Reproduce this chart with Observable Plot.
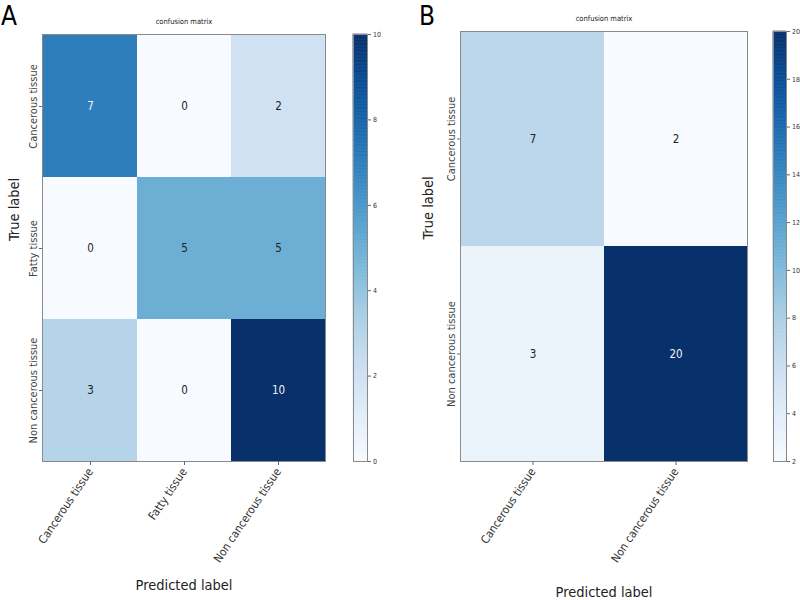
<!DOCTYPE html>
<html>
<head>
<meta charset="utf-8">
<script src="https://cdn.jsdelivr.net/npm/d3@7"></script>
<script src="https://cdn.jsdelivr.net/npm/@observablehq/plot@0.6"></script>
<style>
  html, body { margin: 0; padding: 0; background: white; }
  #root { position: relative; width: 800px; height: 600px; overflow: hidden;
          font-family: "DejaVu Sans Condensed", "DejaVu Sans", sans-serif; font-stretch: condensed; }
  #root svg { position: absolute; left: 0; top: 0; }
  .panel-letter { position: absolute; font-size: 26px; line-height: 1.1; color: #000; }
</style>
</head>
<body>
<div id="root">
  <div class="panel-letter" style="left:1px; top:2px;">A</div>
  <div class="panel-letter" style="left:419px; top:2px;">B</div>
</div>
<script>
// ---- data ----
const labelsA = ["Cancerous tissue", "Fatty tissue", "Non cancerous tissue"];
const valuesA = [
  [7, 0, 2],
  [0, 5, 5],
  [3, 0, 10]
];
const colorTicksA = [0, 2, 4, 6, 8, 10];
const colorDomainA = [0, 10];

const labelsB = ["Cancerous tissue", "Non cancerous tissue"];
const valuesB = [
  [7, 2],
  [3, 20]
];
const colorTicksB = [2, 4, 6, 8, 10, 12, 14, 16, 18, 20];
const colorDomainB = [2, 20];

const titleText = "confusion matrix";
const xLabelText = "Predicted label";
const yLabelText = "True label";

// ---- helpers ----
const W = 800, H = 600;
const condensed = "DejaVu Sans Condensed, DejaVu Sans, sans-serif";
const normal = "DejaVu Sans, sans-serif";
const svgStyle = {background: "transparent", overflow: "visible", fontFamily: condensed};

function toCells(labels, values) {
  const out = [];
  values.forEach((row, i) => row.forEach((v, j) => out.push({t: labels[i], p: labels[j], v})));
  return out;
}

function matrix(labels, values, dom, box) {
  const cells = toCells(labels, values);
  const thresh = d3.max(cells, d => d.v) / 2;
  return Plot.plot({
    width: W, height: H,
    marginLeft: box.left, marginRight: W - box.right,
    marginTop: box.top, marginBottom: H - box.bottom,
    style: svgStyle,
    x: {domain: labels, padding: 0},
    y: {domain: labels, padding: 0},
    color: {type: "linear", scheme: "blues", domain: dom},
    marks: [
      Plot.cell(cells, {x: "p", y: "t", fill: "v"}),
      Plot.text(cells, {x: "p", y: "t", text: d => String(d.v), fontSize: 11.5,
        fill: d => d.v > thresh ? "#f2f2f2" : "#222"}),
      Plot.frame({stroke: "#8a8a8a", strokeWidth: 1}),
      Plot.axisX({tickRotate: -56, tickSize: 4, tickPadding: 4, fontSize: 11.5,
        fontFamily: condensed, fill: "#333", stroke: "#666", label: null}),
      Plot.axisY({tickRotate: -90, tickSize: 3, tickPadding: 3, fontSize: 11,
        fontFamily: normal, fill: "#444", stroke: "#666", label: null}),
      Plot.text([titleText], {frameAnchor: "top", dy: -16, fontSize: 7.5, fill: "#222"}),
      Plot.text([xLabelText], {frameAnchor: "bottom", dy: box.xlabDy, fontSize: 14.5, fill: "#222"}),
      Plot.text([yLabelText], {frameAnchor: "left", dx: box.ylabDx, dy: -7, rotate: -90,
        fontSize: 14.5, fontFamily: normal, fill: "#222"})
    ]
  });
}

function colorbar(dom, ticks, box) {
  const step = (dom[1] - dom[0]) / 300;
  const steps = d3.range(dom[0], dom[1], step);
  return Plot.plot({
    width: W, height: H,
    marginLeft: box.left, marginRight: W - box.right,
    marginTop: box.top, marginBottom: H - box.bottom,
    style: svgStyle,
    x: {domain: [0, 1], axis: null},
    y: {domain: dom},
    color: {type: "linear", scheme: "blues", domain: dom},
    marks: [
      Plot.rect(steps, {x1: 0, x2: 1, y1: d => d, y2: d => d + step,
        fill: d => d + step / 2, stroke: d => d + step / 2, strokeWidth: 0.6}),
      Plot.frame({stroke: "#8a8a8a", strokeWidth: 1}),
      Plot.axisY(ticks, {anchor: "right", tickSize: 3, tickPadding: 2.5, fontSize: 7,
        fill: "#333", stroke: "#666", label: null})
    ]
  });
}

const root = document.getElementById("root");
root.appendChild(matrix(labelsA, valuesA, colorDomainA,
  {left: 42, right: 325, top: 34, bottom: 461, xlabDy: 128, ylabDx: -28}));
root.appendChild(colorbar(colorDomainA, colorTicksA, {left: 353, right: 367, top: 34, bottom: 461}));
root.appendChild(matrix(labelsB, valuesB, colorDomainB,
  {left: 460, right: 747, top: 31, bottom: 461, xlabDy: 135, ylabDx: -32}));
root.appendChild(colorbar(colorDomainB, colorTicksB, {left: 773, right: 786, top: 31, bottom: 461}));
</script>
</body>
</html>
